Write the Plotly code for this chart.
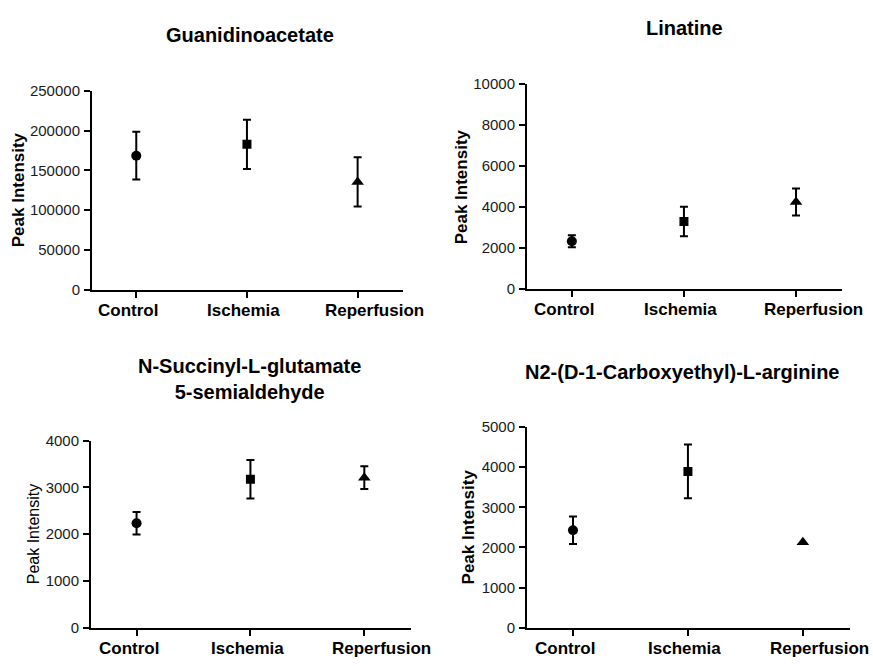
import plotly.graph_objects as go

# Group labels shared by every panel
categories = ["Control", "Ischemia", "Reperfusion"]
marker_symbols = ["circle", "square", "triangle-up"]
marker_sizes = [10, 9, 11]

# Mean peak intensity and SEM per metabolite
guan_mean = [168500, 182800, 135500]
guan_sem = [30000, 31000, 31000]

lina_mean = [2320, 3285, 4230]
lina_sem = [290, 720, 660]

nsuc_mean = [2235, 3175, 3210]
nsuc_sem = [243, 412, 245]

ncar_mean = [2430, 3895, 2130]
ncar_sem = [345, 668, None]

panel_titles = [
    "Guanidinoacetate",
    "Linatine",
    "N-Succinyl-L-glutamate<br>5-semialdehyde",
    "N2-(D-1-Carboxyethyl)-L-arginine",
]
y_max = [250000, 10000, 4000, 5000]
y_step = [50000, 2000, 1000, 1000]

W, H = 873, 666
FONT = "Liberation Sans, Arial, sans-serif"

# Plot areas in pixels: (left, right, top, bottom)
boxes = [
    (92, 403, 84, 288),
    (527, 842, 77, 287),
    (91, 411, 443, 635),
    (527, 850, 429, 635),
]
# Title centres (x, y) in pixels
title_pos = [(250, 27), (684, 20), (250, 380), (682, 372)]
# y-axis title centres (x, y) in pixels, and bold flag
ytitle_pos = [(18, 186, True), (461, 183, True), (33, 539, False), (468, 532, True)]
# horizontal nudges of the category labels under each tick
label_shift = [-8, -3, 17]

series = [
    (guan_mean, guan_sem),
    (lina_mean, lina_sem),
    (nsuc_mean, nsuc_sem),
    (ncar_mean, ncar_sem),
]

fig = go.Figure()
annotations = []

for i, ((means, sems), (l, r, t, b)) in enumerate(zip(series, boxes)):
    n = i + 1
    xa = "x" if n == 1 else f"x{n}"
    ya = "y" if n == 1 else f"y{n}"
    for j, cat in enumerate(categories):
        err = sems[j]
        fig.add_trace(go.Scatter(
            x=[j], y=[means[j]], xaxis=xa, yaxis=ya,
            mode="markers",
            marker=dict(symbol=marker_symbols[j], size=marker_sizes[j], color="black"),
            error_y=dict(type="data", array=[err], visible=err is not None,
                         color="black", thickness=2, width=4),
            showlegend=False, name=cat,
        ))
        # category label below the x axis
        annotations.append(dict(
            text=cat, x=j, xref=xa, y=0, yref=f"{ya} domain",
            xanchor="center", yanchor="middle", yshift=-21, xshift=label_shift[j],
            showarrow=False,
            font=dict(family=FONT, size=17, color="black", weight="bold"),
        ))

    axis_common = dict(showline=True, linecolor="black", linewidth=2,
                       ticks="outside", tickcolor="black", tickwidth=2, ticklen=6,
                       showgrid=False, zeroline=False)
    fig.update_layout(**{
        ("xaxis" if n == 1 else f"xaxis{n}"): dict(
            domain=[l / W, r / W], anchor=ya,
            range=[-0.4, 2.41], tickvals=[0, 1, 2], showticklabels=False,
            **axis_common),
        ("yaxis" if n == 1 else f"yaxis{n}"): dict(
            domain=[1 - b / H, 1 - t / H], anchor=xa,
            range=[0, y_max[i]], dtick=y_step[i], tick0=0, tickformat="d",
            tickfont=dict(family=FONT, size=15, color="#1a1a1a"),
            ticklabelstandoff=1,
            **axis_common),
    })

    tx, ty = title_pos[i]
    annotations.append(dict(
        text=panel_titles[i], x=tx / W, y=1 - ty / H, xref="paper", yref="paper",
        xanchor="center", yanchor="middle", showarrow=False,
        font=dict(family=FONT, size=20, color="black", weight="bold"),
    ))
    yx, yy, bold = ytitle_pos[i]
    annotations.append(dict(
        text="Peak Intensity", x=yx / W, y=1 - yy / H, xref="paper", yref="paper",
        xanchor="center", yanchor="middle", showarrow=False, textangle=-90,
        font=dict(family=FONT, size=17 if bold else 16, color="black",
                  weight="bold" if bold else "normal"),
    ))

fig.update_layout(
    width=W, height=H, autosize=False,
    margin=dict(l=0, r=0, t=0, b=0),
    paper_bgcolor="white", plot_bgcolor="white",
    annotations=annotations,
)

fig.write_html("out.html")
